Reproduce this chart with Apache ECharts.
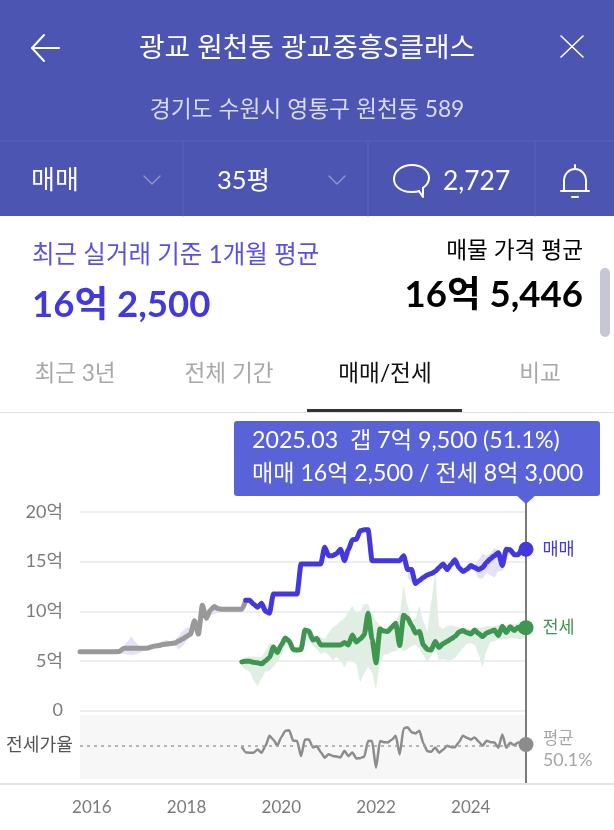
<!DOCTYPE html>
<html lang="ko">
<head>
<meta charset="utf-8">
<style>html,body{margin:0;padding:0;background:#fff;overflow:hidden}#c{width:614px;height:830px}</style>
<script src="https://cdn.jsdelivr.net/npm/echarts@6/dist/echarts.min.js"></script>
</head>
<body>
<div id="c"></div>
<script>
// months from 2015-10 to 2025-03
const firstYear = 2015, firstMonth = 10, monthCount = 114;
const months = [];
for (let i = 0; i < monthCount; i++) {
  const t = firstYear * 12 + firstMonth - 1 + i;
  months.push(Math.floor(t / 12) + '-' + String(t % 12 + 1).padStart(2, '0'));
}
const yTickValues = [0, 5, 10, 15, 20];

// sale price (억), all months
const salePrice = [5.93,5.93,5.93,5.93,5.93,5.93,5.93,5.93,5.93,5.93,5.95,6.25,6.27,6.27,6.27,6.27,6.27,6.27,6.4,6.5,6.55,6.65,6.7,6.75,6.8,7.0,7.2,7.45,7.7,9.05,7.7,10.6,9.3,10.1,10.47,10.25,10.2,10.2,10.2,10.2,10.2,10.2,11.1,
11.1,10.7,10.4,10.8,10.0,9.8,11.75,11.75,11.75,11.75,11.75,11.75,11.75,14.77,14.77,14.77,14.77,14.77,14.77,16.45,15.6,15.6,15.8,16.25,15.1,16.2,17.2,17.25,18.1,18.2,18.2,15.1,15.1,15.1,15.1,15.1,15.1,15.1,15.1,15.6,14.2,14.2,12.8,13.1,13.4,13.65,13.8,14.0,14.4,14.77,14.2,14.7,15.2,14.4,14.0,14.2,14.6,14.4,14.2,14.4,14.9,15.3,15.6,15.9,14.6,16.25,16.2,15.7,15.7,16.25,16.25];
const grayEndIndex = 42;

// sale min/max band: two stretches
const saleBandAStart = 10;
const saleBandAHigh = [5.95,6.5,6.9,7.45,6.9,6.5,6.3,6.3,6.5,6.6,6.8,7.0,7.1,6.9,7.0,7.5,8.0,8.3,8.4,9.1,8.0,10.6,9.5,10.2,10.8,10.5,10.3];
const saleBandALow = [5.9,5.75,5.65,5.6,5.65,5.8,6.0,6.2,6.3,6.4,6.45,6.5,6.5,6.5,6.55,6.2,6.5,7.0,7.5,8.6,7.5,9.5,9.0,9.6,9.7,9.9,10.1];
const saleBandBStart = 83;
const saleBandBHigh = [14.3,14.4,13.2,13.3,13.6,13.9,14,14.2,14.5,14.9,14.5,14.9,15.4,14.6,14.2,14.4,14.8,14.7,15.2,15.8,15.6,15.9,16.35,16.2,15.9,16.4,16.3,15.9,15.9,16.35,16.35];
const saleBandBLow = [13.4,12.9,12.6,12.9,13.2,13.4,13.6,13.8,14.2,14.5,14,14.5,15,14.2,13.8,14,14.4,14,13.3,13.3,13.9,13.6,13.4,14.0,14.1,15.3,15.9,15.5,15.5,16.1,16.15];

// jeonse series start 2019-03
const jeonseStart = 41;
const jeonsePrice = [4.9,4.95,4.95,4.85,4.8,4.7,5.0,5.35,6.4,5.85,6.6,7.3,7.0,6.15,6.1,6.15,8.1,8.0,7.1,7.25,6.6,6.6,6.6,6.6,6.6,6.6,6.85,6.6,7.6,6.9,7.2,7.6,9.8,7.2,4.8,8.2,8.0,7.95,8.4,8.8,6.55,9.6,9.3,8.6,7.8,7.95,6.6,6.15,6.1,6.95,6.35,6.75,6.95,7.2,7.45,7.9,8.05,7.85,7.7,8.1,7.75,7.45,7.8,7.95,8.1,7.55,8.5,7.85,8.45,8.05,8.4,7.95,8.35];
const jeonseHigh = [5.2,5.4,5.45,5.45,5.4,5.4,6.0,6.8,6.7,6.3,6.7,7.5,7.2,6.4,6.3,6.4,8.3,8.2,7.4,7.5,7.4,7.2,7.8,8.4,8.6,9.0,9.3,9.9,10.5,9.8,10.0,10.7,10.7,9.8,9.0,8.6,8.3,8.4,8.7,9.0,9.8,12.5,10.6,9.0,9.3,10.5,9.0,8.0,11.0,13.8,8.5,8.2,8.5,8.6,8.5,8.4,8.3,8.3,8.2,8.4,8.3,8.4,8.5,8.5,8.5,8.6,8.7,8.6,8.7,8.7,8.8,8.8,8.8];
const jeonseLow = [4.5,4.1,3.9,3.0,2.5,3.2,3.9,4.0,4.4,5.0,5.6,6.6,6.6,5.8,5.8,5.9,7.5,7.2,6.5,6.2,5.7,5.9,5.6,5.1,5.4,5.0,4.4,5.1,4.9,4.7,2.9,3.7,4.4,3.8,2.2,4.7,5.6,5.7,5.9,6.0,6.4,6.0,6.2,6.5,6.6,6.2,5.6,4.9,5.5,6.2,5.1,5.2,5.1,5.1,5.3,5.8,6.3,6.7,6.8,6.6,5.6,4.4,6.0,6.9,7.0,7.2,7.2,7.2,7.3,7.3,7.2,7.2,7.4];

// jeonse ratio (%)
const ratioValues = [49.3,44.8,44.6,44.6,47.2,44.5,50,58.1,55,50.1,57,62,62.6,54.1,54,41.8,55.2,55.2,48.8,49.8,45,40.5,43.4,42,41.5,40.8,46.1,41.8,44.8,40,40.2,41.3,54,54,32.5,54,53,52.8,55,58.1,43.2,64,65,61,60,62.1,52,45.8,45.3,48.8,44.5,47,50.1,49,49,53,58.1,56.5,55,56.8,53.5,50.1,54.1,53,52.8,48.5,59.2,48.5,52.5,50.6,52.8,51,51.1];
const ratioMean = 50.1;

const FONT = "Lato, 'Noto Sans CJK KR', sans-serif";
const BLUE = '#4338dd', GREEN = '#3e9650', GRAY = '#999999';

const pad = (start, arr) => new Array(start).fill(null).concat(arr);
const mergeBands = (a, b) => {
  const out = new Array(monthCount).fill(null);
  a.forEach((v, i) => { out[saleBandAStart + i] = v; });
  b.forEach((v, i) => { out[saleBandBStart + i] = v; });
  return out;
};
const diff = (h, l) => h.map((v, i) => v == null ? null : +(v - l[i]).toFixed(3));

const saleHighAll = mergeBands(saleBandAHigh, saleBandBHigh);
const saleLowAll = mergeBands(saleBandALow, saleBandBLow);
const jHighAll = pad(jeonseStart, jeonseHigh);
const jLowAll = pad(jeonseStart, jeonseLow);
const last = monthCount - 1;

function bandSeries(name, low, high, color) {
  const base = {type:'line', xAxisIndex:0, yAxisIndex:0, stack:name, symbol:'none', silent:true, smooth:0.2, smoothMonotone:'x', z:1};
  return [
    Object.assign({}, base, {name:name+'L', data:low, lineStyle:{opacity:0}}),
    Object.assign({}, base, {name:name+'H', data:diff(high, low), lineStyle:{opacity:0}, areaStyle:{color:color, opacity:1}})
  ];
}
function dot(name, value, color, labelText, labelColor) {
  return {
    symbol:'circle', symbolSize:15, silent:true,
    itemStyle:{color:color},
    label:{show:!!labelText, position:'right', distance:9, formatter:labelText||'', color:labelColor, fontSize:17.5, fontFamily:FONT},
    data:[{coord:[months[last], value]}]
  };
}

function T(text, x, y, size, color, opt) {
  opt = opt || {};
  return {type:'text', x:x, y:y, z:20, silent:true, style:{text:text, fontSize:size, fontFamily:FONT, fill:color, fontWeight:opt.w||400, align:opt.a||'left', verticalAlign:'middle'}};
}
function L(x1,y1,x2,y2,color,w) {
  return {type:'line', z:18, silent:true, shape:{x1,y1,x2,y2}, style:{stroke:color, lineWidth:w||1, lineCap:'round'}};
}
function P(points, color, w) {
  return {type:'polyline', z:18, silent:true, shape:{points}, style:{stroke:color, lineWidth:w||2, fill:null, lineJoin:'round', lineCap:'round'}};
}
function B(x1,y1,cpx1,cpy1,cpx2,cpy2,x2,y2,color,w) {
  return {type:'bezierCurve', z:18, silent:true, shape:{x1,y1,cpx1,cpy1,cpx2,cpy2,x2,y2}, style:{stroke:color, lineWidth:w||2, fill:null, lineCap:'round'}};
}
const HEAD = '#4d55b2', DIV = '#5a62ba';

const graphic = [
  {type:'rect', z:10, silent:true, shape:{x:0,y:0,width:614,height:216}, style:{fill:HEAD}},
  L(0,141,614,141,DIV,1), L(183,141,183,216,DIV,1), L(368,141,368,216,DIV,1), L(535,141,535,216,DIV,1),
  P([[44,35],[32,48],[44,61]],'#fff',2), L(32,48,59,48,'#fff',2),
  L(561,36,583,57,'#fff',1.6), L(583,36,561,57,'#fff',1.6),
  T('광교 원천동 광교중흥S클래스',307,48,27.8,'#ffffff',{a:'center'}),
  T('경기도 수원시 영통구 원천동 589',307,110,22.8,'#d9daf0',{a:'center'}),
  T('매매',31,181,26,'#ffffff'),
  P([[144,176],[152,184],[160,176]],'#8f94cf',1.5),
  T('35평',217,181,25.5,'#ffffff'),
  P([[329,176],[337,184],[345,176]],'#8f94cf',1.5),
  // speech bubble
  B(412,165,402,165,394,171,394,179,'#fff',2),
  B(394,179,394,187,402,192,411,192,'#fff',2),
  B(411,192,414,192,417,192,419,191,'#fff',2),
  P([[419,191],[423,197],[423,188]],'#fff',2),
  B(423,188,427,185,429,182,429,178,'#fff',2),
  B(429,178,429,171,422,165,412,165,'#fff',2),
  T('2,727',443,181,26.4,'#ffffff'),
  // bell
  L(561,191,589,191,'#fff',2),
  P([[564,191],[564,181]],'#fff',2),
  B(564,181,564,174,569,169,575,169,'#fff',2),
  B(575,169,581,169,586,174,586,181,'#fff',2),
  P([[586,181],[586,191]],'#fff',2),
  L(575,165,575,168,'#fff',2),
  L(572,197,578,197,'#fff',2),

  T('최근 실거래 기준 1개월 평균',32,255,24.5,'#5a50e0'),
  T('16억 2,500',32,305,36.6,BLUE,{w:700}),
  T('매물 가격 평균',583,251,22.7,'#000000',{a:'right'}),
  T('16억 5,446',583,295,36.6,'#000000',{w:700,a:'right'}),
  {type:'rect', z:18, silent:true, shape:{x:600,y:268,width:10,height:69,r:5}, style:{fill:'#c6c6d4'}},
  T('최근 3년',75,374,22.6,'#a8a8a8',{a:'center'}),
  T('전체 기간',229,374,22.6,'#a8a8a8',{a:'center'}),
  T('매매/전세',385,374,22.6,'#111111',{a:'center'}),
  T('비교',540,374,22.6,'#a8a8a8',{a:'center'}),
  L(0,412.5,614,412.5,'#dddddd',1),
  {type:'rect', z:19, silent:true, shape:{x:307,y:409,width:155,height:3}, style:{fill:'#333333'}},

  {type:'rect', z:18, silent:true, shape:{x:234,y:421,width:366,height:75,r:3}, style:{fill:'#5a62d8'}},
  {type:'polygon', z:18, silent:true, shape:{points:[[516,495],[536,495],[526,504]]}, style:{fill:'#5a62d8'}},
  T('2025.03  갭 7억 9,500 (51.1%)',252,441,23.2,'#ffffff'),
  T('매매 16억 2,500 / 전세 8억 3,000',252,474,23.1,'#ffffff'),

  T('전세가율',73,745,18.2,'#555555',{a:'right'}),
  T('평균',543,739,16.5,'#a5a5a5'),
  T('50.1%',543,760,17.8,'#a5a5a5'),
  L(0,784,614,784,'#e4e4e4',2)
];

const chart = echarts.init(document.getElementById('c'), null, {renderer:'canvas', width:614, height:830});
chart.setOption({
  animation:false,
  backgroundColor:'#ffffff',
  textStyle:{fontFamily:FONT},
  grid:[
    {left:80, width:446, top:512, height:198.5},
    {left:80, width:446, top:715, height:64, show:true, backgroundColor:'#f7f7f7', borderWidth:0},
    {left:80, width:446, top:503, height:281}
  ],
  xAxis:[
    {gridIndex:0, type:'category', data:months, boundaryGap:false, show:false},
    {gridIndex:1, type:'category', data:months, boundaryGap:false, show:false},
    {gridIndex:2, type:'category', data:months, boundaryGap:false,
      axisLine:{show:false}, axisTick:{show:false}, splitLine:{show:false},
      axisLabel:{show:true, margin:15, color:'#7b7b7b', fontSize:17, fontFamily:FONT,
        hideOverlap:false,
        interval:(i,v)=>v.slice(5)==='01' && +v.slice(0,4)%2===0,
        formatter:v=>v.slice(0,4)}}
  ],
  yAxis:[
    {gridIndex:0, type:'value', min:0, max:20, interval:5,
      axisLine:{show:false}, axisTick:{show:false},
      axisLabel:{margin:17, color:'#7b7b7b', fontSize:18, fontFamily:FONT, formatter:v=>yTickValues.includes(v)&&v?v+'억':'0'},
      splitLine:{lineStyle:{color:'#e8e8e8', width:1.5}}},
    {gridIndex:1, type:'value', min:23.5, max:74.7, show:false, splitLine:{show:false}},
    {gridIndex:2, type:'value', min:0, max:1, show:false, splitLine:{show:false}}
  ],
  series:[
    ...bandSeries('saleBand', saleLowAll, saleHighAll, '#e3e2f9'),
    ...bandSeries('jeonseBand', jLowAll, jHighAll, '#e1eee4'),
    {type:'line', name:'매매(이전)', xAxisIndex:0, yAxisIndex:0, z:3, symbol:'none', smooth:0.2, smoothMonotone:'x',
      data:salePrice.map((v,i)=>i<=grayEndIndex?v:null),
      lineStyle:{color:GRAY, width:5, cap:'round', join:'round'}},
    {type:'line', name:'매매', xAxisIndex:0, yAxisIndex:0, z:4, symbol:'none', smooth:0.2, smoothMonotone:'x',
      data:salePrice.map((v,i)=>i>=grayEndIndex?v:null),
      lineStyle:{color:BLUE, width:5, cap:'round', join:'round'},
      markPoint:dot('매매', salePrice[last], BLUE, '매매', BLUE)},
    {type:'line', name:'전세', xAxisIndex:0, yAxisIndex:0, z:4, symbol:'none', smooth:0.2, smoothMonotone:'x',
      data:pad(jeonseStart, jeonsePrice),
      lineStyle:{color:GREEN, width:5, cap:'round', join:'round'},
      markPoint:dot('전세', jeonsePrice[jeonsePrice.length-1], GREEN, '전세', GREEN)},
    {type:'line', name:'전세가율', xAxisIndex:1, yAxisIndex:1, z:4, symbol:'none', smooth:0.2, smoothMonotone:'x',
      data:pad(jeonseStart, ratioValues),
      lineStyle:{color:'#8c8c8c', width:2.5, join:'round'},
      markLine:{silent:true, symbol:'none', label:{show:false}, lineStyle:{color:'#a0a0a0', type:[3,4], width:1.5}, data:[{yAxis:ratioMean}]},
      markPoint:dot('전세가율', ratioValues[ratioValues.length-1], '#8c8c8c')},
    {type:'line', name:'기준선', xAxisIndex:2, yAxisIndex:2, z:3, symbol:'none', silent:true,
      data:[[months[last],0],[months[last],1]],
      lineStyle:{color:'#7a7a7a', width:2}}
  ],
  graphic:{elements:graphic}
});
</script>
</body>
</html>
